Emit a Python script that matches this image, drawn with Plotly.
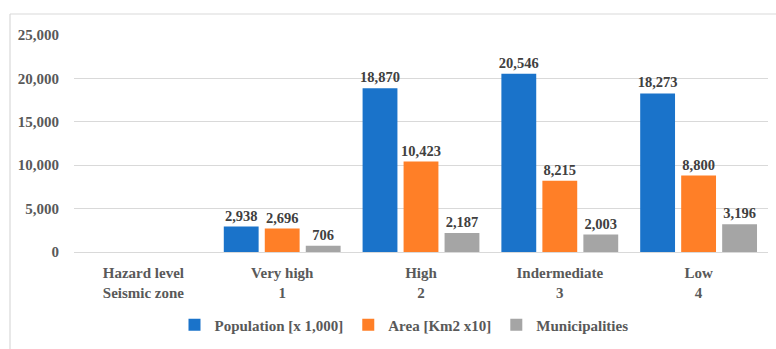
import plotly.graph_objects as go

# Seismic hazard zones and the three series shown per zone
categories = ["Hazard level<br>Seismic zone", "Very high<br>1", "High<br>2",
              "Indermediate<br>3", "Low<br>4"]
population = [None, 2938, 18870, 20546, 18273]
area = [None, 2696, 10423, 8215, 8800]
municipalities = [None, 706, 2187, 2003, 3196]

series_names = ["Population [x 1,000]", "Area [Km2 x10]", "Municipalities"]
series_colors = ["#1A73CA", "#FF7F27", "#A5A5A5"]
y_ticks = [0, 5000, 10000, 15000, 20000, 25000]

FONT = "Liberation Serif"
W, H = 776, 349
ML, MR, MT, MB = 74, 8, 35, 97

fig = go.Figure()
for name, vals, color in zip(series_names, [population, area, municipalities], series_colors):
    fig.add_trace(go.Bar(
        x=categories, y=vals, name="<b>" + name + "</b>",
        marker=dict(color=color, line=dict(width=0)),
        texttemplate="%{y:,}", textposition="outside", constraintext="none",
        textfont=dict(family=FONT, size=14.5, color="#404040", weight="bold"),
        cliponaxis=False,
    ))

pw = W - ML - MR
ph = H - MT - MB
# thin frame on the left and top edges of the chart
frame_x = (10 - ML) / pw
frame_y = (H - MB - 14) / ph
fig.add_shape(type="line", xref="paper", yref="paper",
              x0=frame_x, x1=1.2, y0=frame_y, y1=frame_y,
              line=dict(color="#D9D9D9", width=1.2))
fig.add_shape(type="line", xref="paper", yref="paper",
              x0=frame_x, x1=frame_x, y0=frame_y, y1=-1,
              line=dict(color="#D9D9D9", width=1.2))

fig.update_layout(
    width=W, height=H,
    margin=dict(l=ML, r=MR, t=MT, b=MB),
    paper_bgcolor="white", plot_bgcolor="white",
    barmode="group", bargap=0.114, bargroupgap=0.15,
    font=dict(family=FONT, size=15, color="#595959"),
    showlegend=True,
    legend=dict(orientation="h", x=(404 - ML) / pw, xanchor="center",
                y=(H - MB - 325) / ph, yanchor="middle",
                font=dict(family=FONT, size=15, color="#595959"),
                itemwidth=30, traceorder="normal"),
    xaxis=dict(showgrid=False, showline=False, ticks="", ticklabelstandoff=10,
               tickfont=dict(family=FONT, size=15, color="#595959", weight="bold")),
    yaxis=dict(range=[0, 25000], tickvals=y_ticks, tickformat=",",
               showgrid=True, gridcolor="#D9D9D9", gridwidth=1,
               zeroline=True, zerolinecolor="#D9D9D9", zerolinewidth=1,
               showline=False, ticks="", ticklabelstandoff=14,
               tickfont=dict(family=FONT, size=15, color="#595959", weight="bold")),
)

fig.write_html("out.html")
